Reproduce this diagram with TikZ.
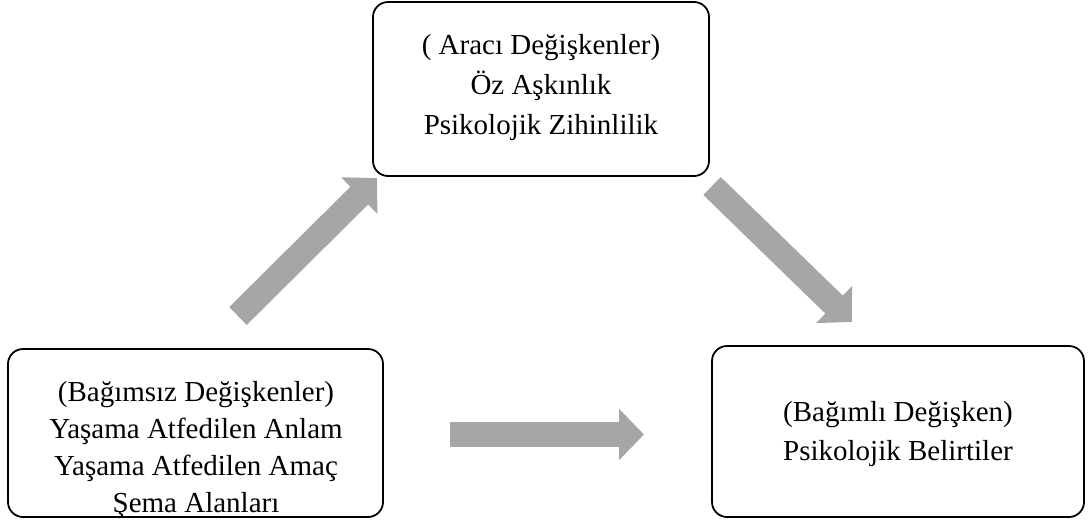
\documentclass[tikz,border=0pt]{standalone}
\usepackage{fontspec}
\setmainfont{Liberation Serif}
\usetikzlibrary{arrows.meta}
\definecolor{arrowgray}{HTML}{A6A6A6}
\tikzset{
  box/.style={draw=black, line width=1.8pt, rounded corners=15pt, fill=white},
  txt/.style={align=center, inner sep=0pt, font=\fontsize{29}{#1}\selectfont},
  blockarrow/.style={draw=arrowgray, line width=25pt, -{Triangle[length=25pt, width=50pt, fill=arrowgray]}}
}
\begin{document}
\begin{tikzpicture}[x=1pt, y=-1pt]
\useasboundingbox (0,0) rectangle (1090,520);
% boxes
\draw[box] (373,2) rectangle (709,176);
\draw[box] (8,349) rectangle (383,517);
\draw[box] (712,346) rectangle (1084,517);
% texts
\node[txt=40] (toptext) at (541,88) {( Aracı Değişkenler)\\Öz Aşkınlık\\Psikolojik Zihinlilik};
\node[txt=36.7] (lefttext) at (196,450) {(Bağımsız Değişkenler)\\Yaşama Atfedilen Anlam\\Yaşama Atfedilen Amaç\\Şema Alanları};
\node[txt=38.5] (righttext) at (898,434) {(Bağımlı Değişken)\\Psikolojik Belirtiler};
% arrows
\coordinate (a1s) at (238,316);
\coordinate (a1e) at (377,178);
\coordinate (a2s) at (712,186);
\coordinate (a2e) at (852,322);
\coordinate (a3s) at (450,434.5);
\coordinate (a3e) at (644,434.5);
\draw[blockarrow] (a1s) -- (a1e);
\draw[blockarrow] (a2s) -- (a2e);
\draw[blockarrow] (a3s) -- (a3e);
\end{tikzpicture}
\end{document}
